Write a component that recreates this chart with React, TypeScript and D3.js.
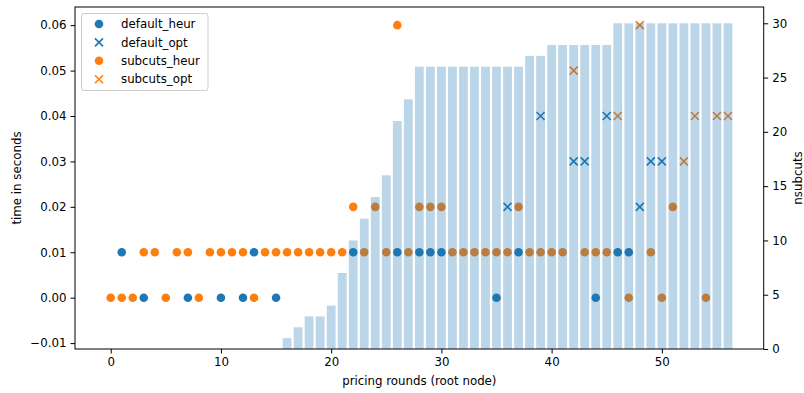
import React, { useEffect, useRef } from 'react';
import * as d3 from 'd3';

// pricing round -> time (s)
const defaultHeur: [number, number][] = [
	[3, 0], [7, 0], [10, 0], [12, 0], [15, 0], [35, 0], [44, 0],
	[1, 0.01], [13, 0.01], [22, 0.01], [26, 0.01], [28, 0.01], [29, 0.01], [30, 0.01],
	[37, 0.01], [46, 0.01], [47, 0.01]
];
const defaultOpt: [number, number][] = [
	[36, 0.02], [39, 0.04], [42, 0.03], [43, 0.03], [45, 0.04], [48, 0.02], [49, 0.03], [50, 0.03]
];
const subcutsHeur: [number, number][] = [
	[0, 0], [1, 0], [2, 0], [5, 0], [8, 0], [13, 0], [47, 0], [50, 0], [54, 0],
	[3, 0.01], [4, 0.01], [6, 0.01], [7, 0.01], [9, 0.01], [10, 0.01], [11, 0.01], [12, 0.01],
	[14, 0.01], [15, 0.01], [16, 0.01], [17, 0.01], [18, 0.01], [19, 0.01], [20, 0.01], [21, 0.01],
	[23, 0.01], [25, 0.01], [27, 0.01], [31, 0.01], [32, 0.01], [33, 0.01], [34, 0.01], [35, 0.01],
	[36, 0.01], [38, 0.01], [39, 0.01], [40, 0.01], [41, 0.01], [43, 0.01], [44, 0.01], [45, 0.01],
	[49, 0.01],
	[22, 0.02], [24, 0.02], [28, 0.02], [29, 0.02], [30, 0.02], [37, 0.02], [51, 0.02],
	[26, 0.06]
];
const subcutsOpt: [number, number][] = [
	[42, 0.05], [46, 0.04], [48, 0.06], [52, 0.03], [53, 0.04], [55, 0.04], [56, 0.04]
];

// number of subcuts per pricing round, rounds 0..56
const nsubcuts = [
	0, 0, 0, 0, 0, 0, 0, 0, 0, 0, 0, 0, 0, 0, 0, 0,
	1, 2, 3, 3, 4, 7, 10, 12, 14, 16, 21, 23,
	26, 26, 26, 26, 26, 26, 26, 26, 26, 26,
	27, 27,
	28, 28, 28, 28, 28, 28,
	30, 30, 30, 30, 30, 30, 30, 30, 30, 30, 30
];

const timeTicks = [-0.01, 0, 0.01, 0.02, 0.03, 0.04, 0.05, 0.06];
const roundTicks = [0, 10, 20, 30, 40, 50];
const subcutTicks = [0, 5, 10, 15, 20, 25, 30];

const BLUE = '#1f77b4';
const ORANGE = '#ff7f0e';
const FONT = 'DejaVu Sans, sans-serif';

const App = () => {
	const node = useRef<SVGSVGElement>(null);

	useEffect(() => {
		const svg = d3.select(node.current);
		svg.selectAll('*').remove();

		const left = 75, right = 763.7, top = 7, bottom = 349;
		const fs = 11.8;

		const x = d3.scaleLinear().domain([-3.24, 59.24]).range([left, right]);
		const y = d3.scaleLinear().domain([-0.0113, 0.064]).range([bottom, top]);
		const y2 = d3.scaleLinear().domain([0, 31.5]).range([bottom, top]);
		const band = x(0.8) - x(0);

		const fmt = (v: number) => (v < 0 ? '\u2212' + d3.format('.2f')(-v) : d3.format('.2f')(v));

		const dot = (g: any, data: [number, number][], color: string) => {
			g.selectAll(null).data(data).enter().append('circle')
				.attr('cx', (d: [number, number]) => x(d[0]))
				.attr('cy', (d: [number, number]) => y(d[1]))
				.attr('r', 4.3)
				.attr('fill', color);
		};
		const cross = (g: any, data: [number, number][], color: string) => {
			g.selectAll(null).data(data).enter().append('path')
				.attr('transform', (d: [number, number]) => `translate(${x(d[0])},${y(d[1])})`)
				.attr('d', 'M-4,-4L4,4M-4,4L4,-4')
				.attr('stroke', color)
				.attr('stroke-width', 1.6)
				.attr('fill', 'none');
		};

		const pts = svg.append('g');
		dot(pts, defaultHeur, BLUE);
		cross(pts, defaultOpt, BLUE);
		dot(pts, subcutsHeur, ORANGE);
		cross(pts, subcutsOpt, ORANGE);

		// twin axis bars are drawn over the scatter
		svg.append('g').selectAll('rect')
			.data(nsubcuts.map((v, i) => [i, v]).filter(d => d[1] > 0))
			.enter().append('rect')
			.attr('x', d => x(d[0]) - band / 2)
			.attr('width', band)
			.attr('y', d => y2(d[1]))
			.attr('height', d => bottom - y2(d[1]))
			.attr('fill', BLUE)
			.attr('fill-opacity', 0.3);

		// frame
		svg.append('rect')
			.attr('x', left).attr('y', top)
			.attr('width', right - left).attr('height', bottom - top)
			.attr('fill', 'none').attr('stroke', '#000').attr('stroke-width', 1);

		const styleAxis = (g: any) => {
			g.select('.domain').remove();
			g.selectAll('text').attr('font-family', FONT).attr('font-size', fs).attr('fill', '#000');
			g.selectAll('line').attr('stroke', '#000');
		};

		svg.append('g')
			.attr('transform', `translate(0,${bottom})`)
			.call(d3.axisBottom(x).tickValues(roundTicks).tickSize(4.5).tickPadding(4))
			.call(styleAxis);

		svg.append('g')
			.attr('transform', `translate(${left},0)`)
			.call(d3.axisLeft(y).tickValues(timeTicks).tickFormat(fmt as any).tickSize(4.5).tickPadding(4))
			.call(styleAxis);

		svg.append('g')
			.attr('transform', `translate(${right},0)`)
			.call(d3.axisRight(y2).tickValues(subcutTicks).tickSize(4.5).tickPadding(4))
			.call(styleAxis);

		svg.append('text')
			.attr('x', (left + right) / 2).attr('y', 385)
			.attr('text-anchor', 'middle')
			.attr('font-family', FONT).attr('font-size', fs)
			.text('pricing rounds (root node)');

		svg.append('text')
			.attr('transform', `translate(21,${(top + bottom) / 2}) rotate(-90)`)
			.attr('text-anchor', 'middle')
			.attr('font-family', FONT).attr('font-size', fs)
			.text('time in seconds');

		svg.append('text')
			.attr('transform', `translate(802,${(top + bottom) / 2}) rotate(-90)`)
			.attr('text-anchor', 'middle')
			.attr('font-family', FONT).attr('font-size', fs)
			.text('nsubcuts');

		// legend
		const lg = svg.append('g');
		lg.append('rect')
			.attr('x', 81.5).attr('y', 13.5).attr('width', 126.5).attr('height', 77)
			.attr('rx', 2.5)
			.attr('fill', '#fff').attr('fill-opacity', 0.8)
			.attr('stroke', '#ccc').attr('stroke-width', 1);

		const items = [
			{ name: 'default_heur', color: BLUE, shape: 'dot' },
			{ name: 'default_opt', color: BLUE, shape: 'cross' },
			{ name: 'subcuts_heur', color: ORANGE, shape: 'dot' },
			{ name: 'subcuts_opt', color: ORANGE, shape: 'cross' }
		];
		items.forEach((it, i) => {
			const cy = 24 + i * 18.4;
			if (it.shape === 'dot') {
				lg.append('circle').attr('cx', 99).attr('cy', cy).attr('r', 4.3).attr('fill', it.color);
			} else {
				lg.append('path')
					.attr('transform', `translate(99,${cy})`)
					.attr('d', 'M-4,-4L4,4M-4,4L4,-4')
					.attr('stroke', it.color).attr('stroke-width', 1.6);
			}
			lg.append('text')
				.attr('x', 121).attr('y', cy).attr('dy', '0.35em')
				.attr('font-family', FONT).attr('font-size', fs)
				.text(it.name);
		});
	}, []);

	return (
		<svg ref={node} width={804} height={393}
			style={{ position: 'absolute', left: 0, top: 0, background: '#fff' }}>
		</svg>
	);
};

export default App;
